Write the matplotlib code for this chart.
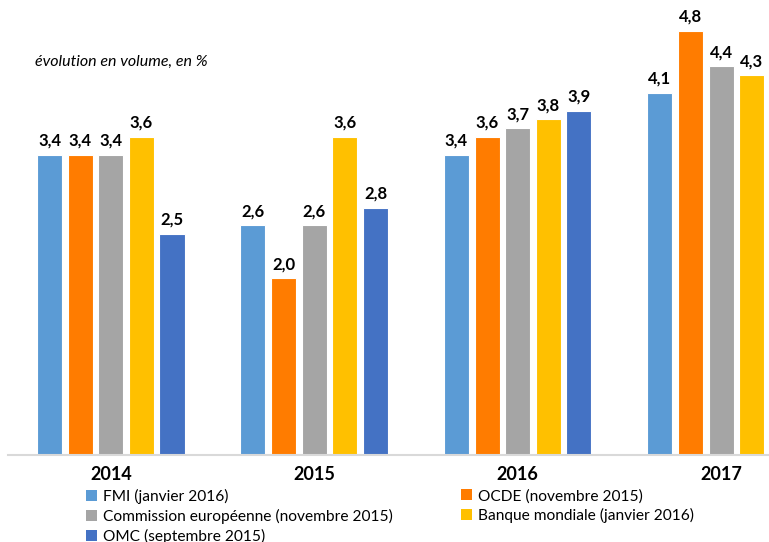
import numpy as np
import matplotlib
matplotlib.use("Agg")
import matplotlib.pyplot as plt
from matplotlib.patches import Patch

plt.rcParams['font.family'] = ['Lato', 'DejaVu Sans']

# Data
years = ["2014", "2015", "2016", "2017"]
series_names = [
    "FMI (janvier 2016)",
    "OCDE (novembre 2015)",
    "Commission européenne (novembre 2015)",
    "Banque mondiale (janvier 2016)",
    "OMC (septembre 2015)",
]
fmi = [3.4, 2.6, 3.4, 4.1]
ocde = [3.4, 2.0, 3.6, 4.8]
commission = [3.4, 2.6, 3.7, 4.4]
banque = [3.6, 3.6, 3.8, 4.3]
omc = [2.5, 2.8, 3.9, None]

colors = ["#5B9BD5", "#FF7C00", "#A5A5A5", "#FFC000", "#4472C4"]
all_series = [fmi, ocde, commission, banque, omc]

fig = plt.figure(figsize=(7.69, 5.42), dpi=100)
ax = fig.add_axes([8 / 769, 0.1605, 1 - 8 / 769, 0.8146])

x = np.arange(len(years))
step = 0.1505
width = 0.123

for j, (vals, col) in enumerate(zip(all_series, colors)):
    for i, v in enumerate(vals):
        if v is None:
            continue
        xpos = x[i] + (j - 2) * step
        ax.bar(xpos, v, width=width, color=col, edgecolor="white", linewidth=0.8)
        ax.annotate(f"{v:.1f}".replace(".", ","), (xpos, v), xytext=(0, 4.5),
                    textcoords="offset points", ha="center", va="bottom",
                    fontsize=12, fontweight="bold", color="black")

ax.set_xlim(-0.505, 3.235)
ax.set_ylim(0, 5.0)
ax.set_xticks(x)
ax.set_xticklabels(years, fontsize=13, fontweight="bold")
ax.tick_params(axis="x", length=0, pad=8)
ax.set_yticks([])
for s in ["top", "right", "left"]:
    ax.spines[s].set_visible(False)
ax.spines["bottom"].set_color("#D9D9D9")
ax.spines["bottom"].set_linewidth(1.5)

fig.text(35 / 769, 1 - 62 / 542, "évolution en volume, en %", fontsize=11.5,
         style="italic", ha="left", va="center")

# Legend in two columns, placed separately
handles = [Patch(facecolor=c, edgecolor="none") for c in colors]
leg_kw = dict(loc="upper left", frameon=False, fontsize=11.2, handlelength=0.7,
              handleheight=0.7, handletextpad=0.4, labelspacing=0.3,
              borderpad=0, borderaxespad=0)
fig.legend([handles[0], handles[2], handles[4]],
           [series_names[0], series_names[2], series_names[4]],
           bbox_to_anchor=(86 / 769, 1 - 489 / 542), **leg_kw)
fig.legend([handles[1], handles[3]],
           [series_names[1], series_names[3]],
           bbox_to_anchor=(461 / 769, 1 - 489 / 542), **leg_kw)

fig.savefig("out.png", dpi=100)
